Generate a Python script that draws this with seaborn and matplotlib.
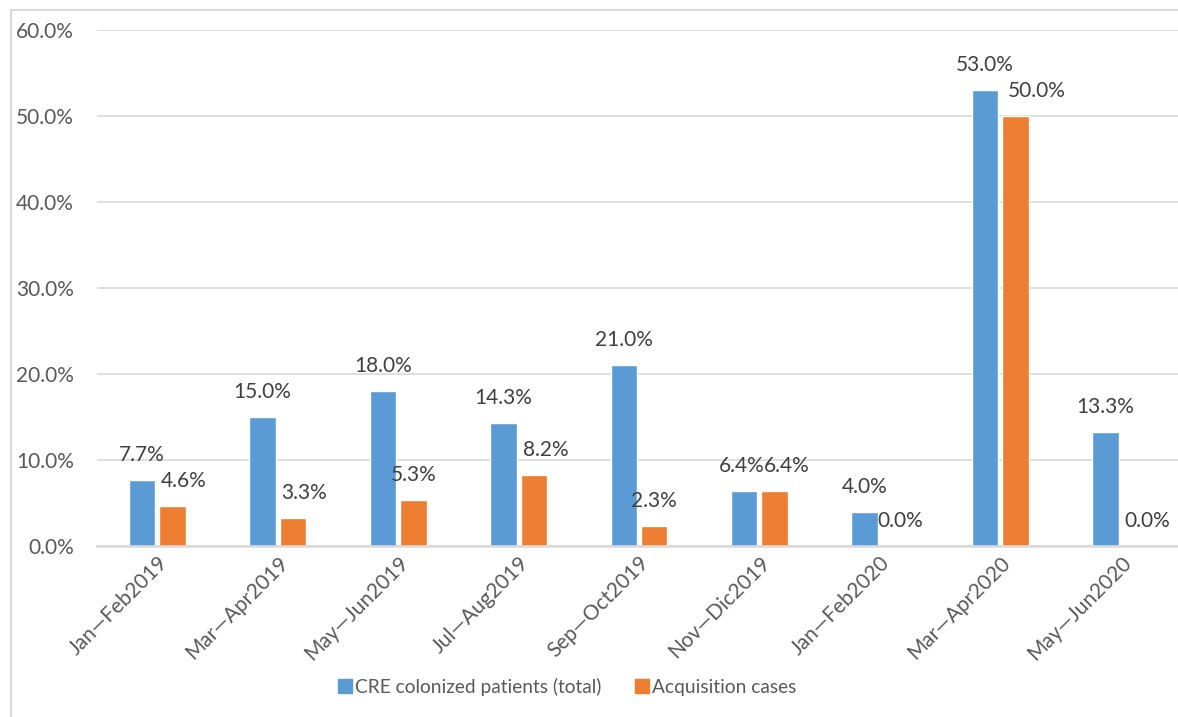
import matplotlib
matplotlib.use("Agg")
import matplotlib.pyplot as plt
from matplotlib.patches import Rectangle
from matplotlib.lines import Line2D
import seaborn as sns
import pandas as pd

periods = ["Jan\u2014Feb2019", "Mar\u2014Apr2019", "May\u2014Jun2019", "Jul\u2014Aug2019",
           "Sep\u2014Oct2019", "Nov\u2014Dic2019", "Jan\u2014Feb2020", "Mar\u2014Apr2020",
           "May\u2014Jun2020"]
cre_total = [7.7, 15.0, 18.0, 14.3, 21.0, 6.4, 4.0, 53.0, 13.3]
acquisition = [4.6, 3.3, 5.3, 8.2, 2.3, 6.4, 0.0, 50.0, 0.0]
series_names = ["CRE colonized patients (total)", "Acquisition cases"]
y_ticks = [0, 10, 20, 30, 40, 50, 60]

colors = ["#5B9BD5", "#ED7D31"]

df = pd.DataFrame({
    "period": periods * 2,
    "value": cre_total + acquisition,
    "series": [series_names[0]] * len(periods) + [series_names[1]] * len(periods),
})

sns.set_theme(style="white")
plt.rcParams["font.family"] = ["Lato", "DejaVu Sans"]

W, H = 1178, 717
fig = plt.figure(figsize=(W / 100, H / 100), dpi=100)
ax = fig.add_axes([97 / W, 1 - 546 / H, 1084 / W, (546 - 30) / H])

sns.barplot(data=df, x="period", y="value", hue="series", hue_order=series_names,
            order=periods, palette=colors, width=0.506, gap=0.13, ax=ax,
            legend=False, saturation=1, errorbar=None)

ax.set_xlim(-0.5, len(periods) - 0.5)
ax.set_ylim(0, 60)
ax.set_yticks(y_ticks)
ax.set_yticklabels([f"{t:.1f}%" for t in y_ticks])
ax.yaxis.grid(True, color="#d9d9d9", lw=1.2)
ax.set_axisbelow(True)
for s in ["top", "right", "left"]:
    ax.spines[s].set_visible(False)
ax.spines["bottom"].set_color("#d9d9d9")
ax.spines["bottom"].set_linewidth(1.8)
ax.set_xlabel("")
ax.set_ylabel("")
ax.tick_params(axis="y", length=0, pad=16.5, labelsize=15, labelcolor="#595959")
ax.tick_params(axis="x", length=0, pad=5, labelsize=15, labelcolor="#595959")
for lab in ax.get_xticklabels():
    lab.set_rotation(45)
    lab.set_ha("right")
    lab.set_rotation_mode("anchor")

# data labels
orange_dx = [11, 11, 0, 12, 0, 12, 5, 21, 11]
for ci, cont in enumerate(ax.containers):
    vals = cre_total if ci == 0 else acquisition
    for i, (bar, v) in enumerate(zip(cont, vals)):
        cx = bar.get_x() + bar.get_width() / 2
        dx = 0 if ci == 0 else orange_dx[i]
        if ci == 0 and i == 5:
            dx = -2
        ax.annotate(f"{v:.1f}%", xy=(cx, v), xytext=(dx, 25), textcoords="offset pixels",
                    ha="center", va="center", fontsize=15, color="#404040",
                    annotation_clip=False)

handles = [Line2D([0], [0], marker="s", linestyle="none", markersize=10,
                  markerfacecolor=c, markeredgecolor=c) for c in colors]
fig.legend(handles, series_names, loc="center", bbox_to_anchor=(566 / W, 1 - 687 / H),
           ncol=2, frameon=False, fontsize=13.8, handletextpad=0.05, columnspacing=1.6,
           labelcolor="#595959", handlelength=1.0)

fig.patches.append(Rectangle((11 / W, -0.1), 1.2, 1 - 10 / H + 0.1, transform=fig.transFigure,
                             fill=False, edgecolor="#d9d9d9", lw=1.5))

fig.savefig("out.png", dpi=100)
